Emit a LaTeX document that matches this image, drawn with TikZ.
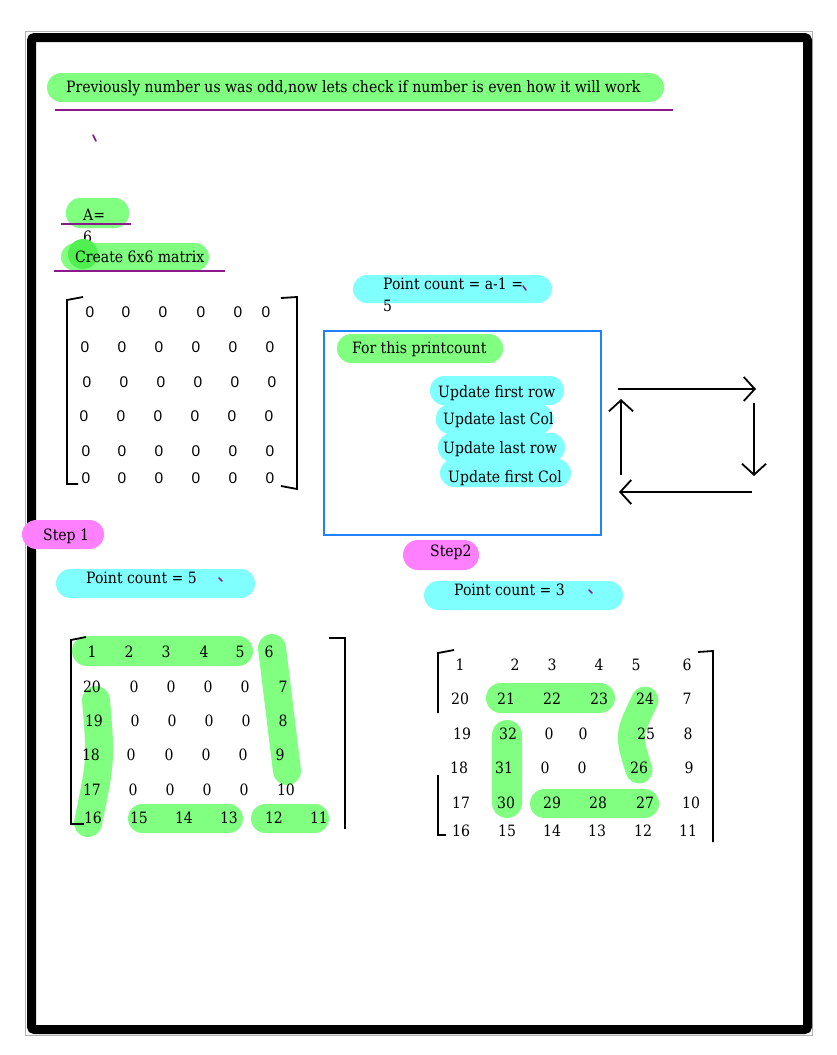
\documentclass[tikz,border=0pt]{standalone}
\usepackage{fontspec}
\setmainfont{DejaVu Serif Condensed}
\newfontfamily\zerofont{Liberation Sans}
\usetikzlibrary{arrows.meta}
\definecolor{hlgreen}{RGB}{128,255,128}
\definecolor{hldark}{RGB}{80,240,80}
\definecolor{hlcyan}{RGB}{128,255,255}
\definecolor{hlpink}{RGB}{255,128,255}
\definecolor{ink}{RGB}{140,25,140}
\definecolor{boxblue}{RGB}{30,130,255}
\tikzset{
 txt/.style={anchor=base west, inner sep=0pt, font=\fontsize{15.6}{18}\selectfont},
 num/.style={inner sep=0pt, font=\fontsize{15.6}{18}\selectfont},
 zero/.style={inner sep=0pt, font=\zerofont\fontsize{15.5}{18}\selectfont},
 uline/.style={draw=ink, line width=1.6},
 tick/.style={draw=ink, line width=1.6, line cap=round},
 brack/.style={draw=black, line width=1.8},
 cyc/.style={draw=black, line width=1.8, -{Straight Barb[length=11pt,width=24pt]}},
}
\begin{document}
\begin{tikzpicture}[x=1pt,y=-1pt]
\useasboundingbox (0,0) rectangle (836,1055);
% frame
\draw[gray!60, line width=1] (25,31) rectangle (812,1035);
\draw[line width=9, rounded corners=3] (31.5,37.5) rectangle (807.5,1029.5);

% header
\fill[hlgreen, rounded corners=14.5] (47,73) rectangle (664,102);
\node[txt] (head) at (66,92) {Previously number us was odd,now lets check if number is even how it will work};
\coordinate (hl1) at (55,110); \coordinate (hl2) at (673,110);
\draw[uline] (hl1) -- (hl2);
\coordinate (t1a) at (93,135); \coordinate (t1b) at (96,141);
\draw[tick] (t1a) -- (t1b);

% A = 6
\fill[hlgreen, rounded corners=14] (66,198) rectangle (129,228);
\node[txt] (aeq) at (83,220) {A=};
\coordinate (al1) at (61,224); \coordinate (al2) at (131,224);
\draw[uline] (al1) -- (al2);
\node[txt] (six) at (83,242) {6};

% create matrix
\fill[hlgreen, rounded corners=14] (61,243) rectangle (209,271);
\fill[hldark] (83,254) circle (15);
\node[txt] (create) at (75,262) {Create 6x6 matrix};
\coordinate (cl1) at (54,271); \coordinate (cl2) at (225,271);
\draw[uline] (cl1) -- (cl2);

% matrix 1 brackets
\coordinate (m1a) at (83,297); \coordinate (m1b) at (67,300); \coordinate (m1c) at (67,484); \coordinate (m1d) at (78,484);
\draw[brack] (m1a) -- (m1b) -- (m1c) -- (m1d);
\coordinate (m1e) at (281,298); \coordinate (m1f) at (297,297); \coordinate (m1g) at (297,489); \coordinate (m1h) at (281,486);
\draw[brack] (m1e) -- (m1f) -- (m1g) -- (m1h);
% matrix 1 zeros
\foreach \x [count=\i] in {90,126,163,201,238,266} \node[zero] (z1-\i) at (\x,312) {0};
\foreach \x [count=\i] in {85,122,159,196,233,270} \node[zero] (z2-\i) at (\x,347) {0};
\foreach \x [count=\i] in {87,124,161,198,235,272} \node[zero] (z3-\i) at (\x,382) {0};
\foreach \x [count=\i] in {84,121,158,195,232,269} \node[zero] (z4-\i) at (\x,416) {0};
\foreach \x [count=\i] in {86,122,159,196,233,270} \node[zero] (z5-\i) at (\x,451) {0};
\foreach \x [count=\i] in {86,122,159,196,233,270} \node[zero] (z6-\i) at (\x,478) {0};

% point count a-1
\fill[hlcyan, rounded corners=14] (353,275) rectangle (552,303);
\node[txt] (pca) at (383,289) {Point count = a-1 =};
\node[txt] (pcb) at (383,311) {5};
\coordinate (t2a) at (523,286); \coordinate (t2b) at (526,290);
\draw[tick] (t2a) -- (t2b);

% blue box
\draw[boxblue, line width=2] (324,331) rectangle (601,535);
\fill[hlgreen, rounded corners=14] (337,334) rectangle (503,363);
\node[txt] (forthis) at (352,353) {For this printcount};
\fill[hlcyan, rounded corners=14] (430,376) rectangle (564,405);
\fill[hlcyan, rounded corners=14] (436,404) rectangle (553,434);
\fill[hlcyan, rounded corners=14] (438,433) rectangle (565,462);
\fill[hlcyan, rounded corners=14] (440,459) rectangle (571,487);
\node[txt] (u1) at (438,397) {Update first row};
\node[txt] (u2) at (443,424) {Update last Col};
\node[txt] (u3) at (443,453) {Update last row};
\node[txt] (u4) at (448,482) {Update first Col};

% cycle arrows
\coordinate (ca1) at (618,389); \coordinate (ca2) at (756,389);
\coordinate (cb1) at (754,403); \coordinate (cb2) at (754,476);
\coordinate (cc1) at (752,492); \coordinate (cc2) at (619,492);
\coordinate (cd1) at (621,475); \coordinate (cd2) at (621,399);
\draw[cyc] (ca1) -- (ca2);
\draw[cyc] (cb1) -- (cb2);
\draw[cyc] (cc1) -- (cc2);
\draw[cyc] (cd1) -- (cd2);

% step 1
\fill[hlpink, rounded corners=14.5] (22,520) rectangle (104,549);
\node[txt] (step1) at (43,540) {Step 1};
\fill[hlcyan, rounded corners=14.5] (56,569) rectangle (255,598);
\node[txt] (pc5) at (86,583) {Point count = 5};
\coordinate (t3a) at (219,578); \coordinate (t3b) at (222,581);
\draw[tick] (t3a) -- (t3b);

% step 2
\fill[hlpink, rounded corners=15] (403,540) rectangle (479,570);
\node[txt] (step2) at (430,556) {Step2};
\fill[hlcyan, rounded corners=14.5] (424,581) rectangle (623,610);
\node[txt] (pc3) at (454,595) {Point count = 3};
\coordinate (t4a) at (589,590); \coordinate (t4b) at (592,593);
\draw[tick] (t4a) -- (t4b);

% matrix 2 highlights
\fill[hlgreen, rounded corners=15] (72,636) rectangle (253,666);
\draw[hlgreen, line width=28, line cap=round] (272,648) -- (287,771);
\draw[hlgreen, line width=28, line cap=round] (96,700) .. controls (101,760) .. (88,823);
\fill[hlgreen, rounded corners=14.5] (128,804) rectangle (243,833);
\fill[hlgreen, rounded corners=14.5] (251,804) rectangle (329,833);
% matrix 2 brackets
\coordinate (m2a) at (86,637); \coordinate (m2b) at (71,640); \coordinate (m2c) at (71,824); \coordinate (m2d) at (84,824);
\draw[brack] (m2a) -- (m2b) -- (m2c) -- (m2d);
\coordinate (m2e) at (329,638); \coordinate (m2f) at (345,638); \coordinate (m2g) at (345,829);
\draw[brack] (m2e) -- (m2f) -- (m2g);
% matrix 2 numbers
\foreach \x/\t [count=\i] in {92/1,129/2,166/3,204/4,240/5,269/6} \node[num] (b1-\i) at (\x,652) {\t};
\foreach \x/\t [count=\i] in {92/20,134/0,171/0,208/0,245/0,283/7} \node[num] (b2-\i) at (\x,687) {\t};
\foreach \x/\t [count=\i] in {94/19,135/0,172/0,209/0,246/0,283/8} \node[num] (b3-\i) at (\x,721) {\t};
\foreach \x/\t [count=\i] in {91/18,131/0,169/0,206/0,243/0,280/9} \node[num] (b4-\i) at (\x,755) {\t};
\foreach \x/\t [count=\i] in {92/17,133/0,170/0,207/0,244/0,286/10} \node[num] (b5-\i) at (\x,790) {\t};
\foreach \x/\t [count=\i] in {93/16,139/15,184/14,229/13,274/12,319/11} \node[num] (b6-\i) at (\x,818) {\t};

% matrix 3 highlights
\fill[hlgreen, rounded corners=15] (486,683) rectangle (615,713);
\draw[hlgreen, line width=27, line cap=round] (645,700) .. controls (628,735) .. (639,770);
\fill[hlgreen, rounded corners=15] (492,720) rectangle (522,818);
\fill[hlgreen, rounded corners=14.5] (530,789) rectangle (659,818);
% matrix 3 brackets
\coordinate (m3a) at (454,650); \coordinate (m3b) at (438,653); \coordinate (m3c) at (438,713);
\draw[brack] (m3a) -- (m3b) -- (m3c);
\coordinate (m3d) at (438,775); \coordinate (m3e) at (438,835); \coordinate (m3f) at (446,835);
\draw[brack] (m3d) -- (m3e) -- (m3f);
\coordinate (m3g) at (698,652); \coordinate (m3h) at (713,651); \coordinate (m3i) at (713,842);
\draw[brack] (m3g) -- (m3h) -- (m3i);
% matrix 3 numbers
\foreach \x/\t [count=\i] in {460/1,515/2,552/3,599/4,636/5,687/6} \node[num] (c1-\i) at (\x,665) {\t};
\foreach \x/\t [count=\i] in {460/20,506/21,552/22,599/23,645/24,687/7} \node[num] (c2-\i) at (\x,699) {\t};
\foreach \x/\t [count=\i] in {462/19,508/32,549/0,583/0,646/25,688/8} \node[num] (c3-\i) at (\x,734) {\t};
\foreach \x/\t [count=\i] in {459/18,504/31,545/0,582/0,639/26,689/9} \node[num] (c4-\i) at (\x,768) {\t};
\foreach \x/\t [count=\i] in {461/17,506/30,552/29,598/28,645/27,691/10} \node[num] (c5-\i) at (\x,803) {\t};
\foreach \x/\t [count=\i] in {461/16,507/15,552/14,597/13,643/12,688/11} \node[num] (c6-\i) at (\x,831) {\t};
\end{tikzpicture}
\end{document}
